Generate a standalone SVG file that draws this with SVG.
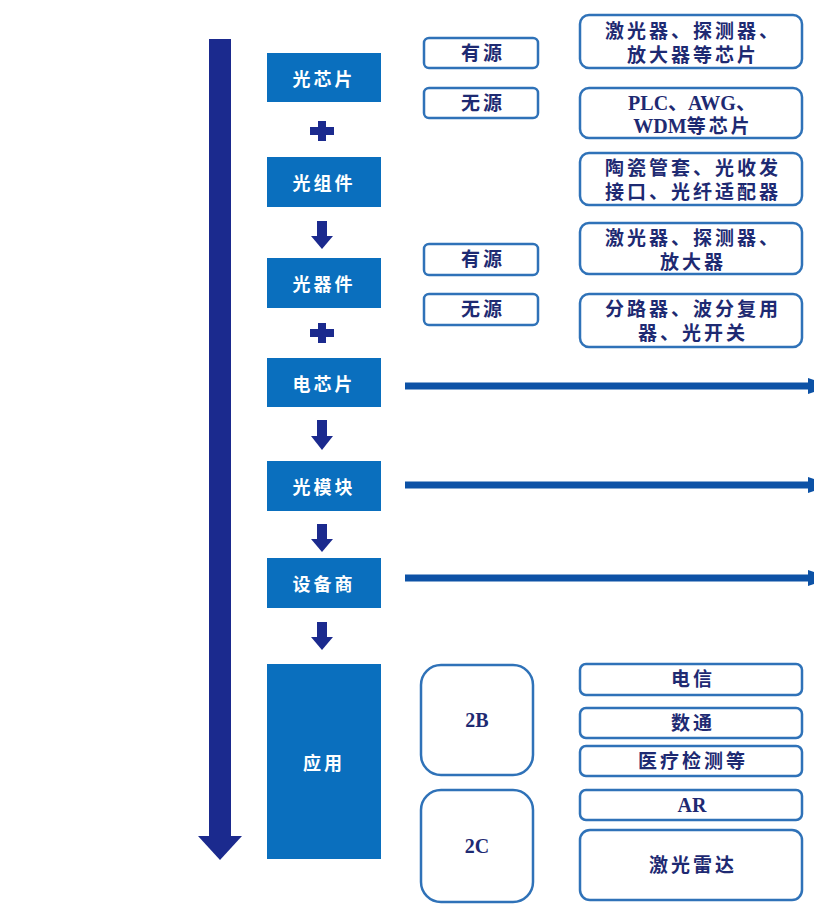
<svg xmlns="http://www.w3.org/2000/svg" width="814" height="906" viewBox="0 0 814 906">
<style>
.bg{fill:#ffffff}
.blk{fill:#0A6FBE}
.wt{fill:#ffffff;font-family:"Noto Sans CJK SC","Liberation Serif",serif;font-size:18px;font-weight:bold;letter-spacing:3px;text-anchor:middle;dominant-baseline:central}
.ob{fill:#ffffff;stroke:#2F72B8;stroke-width:2.5}
.dt{fill:#1E2A72;font-family:"Liberation Serif","Noto Sans CJK SC",serif;font-size:19px;font-weight:bold;letter-spacing:3px;text-anchor:middle;dominant-baseline:central}
.lat{font-family:"Liberation Serif","Noto Sans CJK SC",serif;font-size:20px;letter-spacing:0}
.navy{fill:#1B2A8E}
.harr{stroke:#0D52A6;stroke-width:7;fill:none}
.hh{fill:#0D52A6}
</style>
<rect class="bg" x="0" y="0" width="814" height="906"/>

<g id="main-arrow">
  <rect class="navy" x="209" y="39" width="22" height="798"/>
  <polygon class="navy" points="198,836 242,836 220,860"/>
</g>

<g id="connectors">
  <g id="plus1"><rect class="navy" x="318" y="121" width="8" height="20"/><rect class="navy" x="310" y="127" width="24" height="8"/></g>
  <g id="down1"><rect class="navy" x="317" y="221" width="10" height="16"/><polygon class="navy" points="311,236 333,236 322,249"/></g>
  <g id="plus2"><rect class="navy" x="318" y="323" width="8" height="20"/><rect class="navy" x="310" y="329" width="24" height="8"/></g>
  <g id="down2"><rect class="navy" x="317" y="420" width="10" height="17"/><polygon class="navy" points="311,436 333,436 322,450"/></g>
  <g id="down3"><rect class="navy" x="317" y="524" width="10" height="16"/><polygon class="navy" points="311,539 333,539 322,552"/></g>
  <g id="down4"><rect class="navy" x="317" y="622" width="10" height="16"/><polygon class="navy" points="311,637 333,637 322,650"/></g>
  <g id="h1"><line class="harr" x1="405" y1="386" x2="808" y2="386"/><polygon class="hh" points="808,378 832,386 808,394"/></g>
  <g id="h2"><line class="harr" x1="405" y1="485" x2="808" y2="485"/><polygon class="hh" points="808,477 832,485 808,493"/></g>
  <g id="h3"><line class="harr" x1="405" y1="578" x2="808" y2="578"/><polygon class="hh" points="808,570 832,578 808,586"/></g>
</g>

<g id="n-guangxinpian"><rect class="blk" x="267" y="53" width="114" height="49"/><text class="wt" x="324" y="78">光芯片</text></g>
<g id="n-guangzujian"><rect class="blk" x="267" y="157" width="114" height="50"/><text class="wt" x="324" y="182">光组件</text></g>
<g id="n-guangqijian"><rect class="blk" x="267" y="258" width="114" height="50"/><text class="wt" x="324" y="283">光器件</text></g>
<g id="n-dianxinpian"><rect class="blk" x="267" y="358" width="114" height="49"/><text class="wt" x="324" y="383">电芯片</text></g>
<g id="n-guangmokuai"><rect class="blk" x="267" y="461" width="114" height="50"/><text class="wt" x="324" y="486">光模块</text></g>
<g id="n-shebeishang"><rect class="blk" x="267" y="558" width="114" height="50"/><text class="wt" x="324" y="583">设备商</text></g>
<g id="n-yingyong"><rect class="blk" x="267" y="664" width="114" height="195"/><text class="wt" x="324" y="762">应用</text></g>

<g id="n-youyuan1"><rect class="ob" x="424" y="38" width="114" height="30" rx="5"/><text class="dt" x="483" y="53">有源</text></g>
<g id="n-wuyuan1"><rect class="ob" x="424" y="88" width="114" height="30" rx="5"/><text class="dt" x="483" y="103">无源</text></g>
<g id="n-chips-active"><rect class="ob" x="580" y="15" width="222" height="53" rx="9"/><text class="dt" x="693" y="31">激光器、探测器、</text><text class="dt" x="693" y="55">放大器等芯片</text></g>
<g id="n-chips-passive"><rect class="ob" x="580" y="88" width="222" height="50" rx="9"/><text class="dt" x="692" y="103"><tspan class="lat">PLC、AWG、</tspan></text><text class="dt" x="693" y="126"><tspan class="lat">WDM</tspan>等芯片</text></g>
<g id="n-components"><rect class="ob" x="580" y="153" width="222" height="52" rx="9"/><text class="dt" x="693" y="168">陶瓷管套、光收发</text><text class="dt" x="693" y="192">接口、光纤适配器</text></g>
<g id="n-youyuan2"><rect class="ob" x="424" y="244" width="114" height="31" rx="5"/><text class="dt" x="483" y="259">有源</text></g>
<g id="n-wuyuan2"><rect class="ob" x="424" y="294" width="114" height="31" rx="5"/><text class="dt" x="483" y="309">无源</text></g>
<g id="n-devices-active"><rect class="ob" x="580" y="223" width="222" height="51" rx="9"/><text class="dt" x="693" y="238">激光器、探测器、</text><text class="dt" x="693" y="262">放大器</text></g>
<g id="n-devices-passive"><rect class="ob" x="580" y="294" width="222" height="53" rx="9"/><text class="dt" x="693" y="309">分路器、波分复用</text><text class="dt" x="693" y="333">器、光开关</text></g>

<g id="n-2b"><rect class="ob" x="421" y="665" width="112" height="110" rx="20"/><text class="dt" x="477" y="720"><tspan class="lat">2B</tspan></text></g>
<g id="n-2c"><rect class="ob" x="421" y="790" width="112" height="112" rx="20"/><text class="dt" x="477" y="846"><tspan class="lat">2C</tspan></text></g>
<g id="n-dianxin"><rect class="ob" x="580" y="664" width="222" height="31" rx="6"/><text class="dt" x="693" y="679">电信</text></g>
<g id="n-shutong"><rect class="ob" x="580" y="708" width="222" height="30" rx="6"/><text class="dt" x="693" y="723">数通</text></g>
<g id="n-yiliao"><rect class="ob" x="580" y="746" width="222" height="30" rx="6"/><text class="dt" x="693" y="761">医疗检测等</text></g>
<g id="n-ar"><rect class="ob" x="580" y="790" width="222" height="30" rx="6"/><text class="dt" x="692" y="805"><tspan class="lat">AR</tspan></text></g>
<g id="n-lidar"><rect class="ob" x="580" y="830" width="222" height="70" rx="10"/><text class="dt" x="693" y="865">激光雷达</text></g>
</svg>
